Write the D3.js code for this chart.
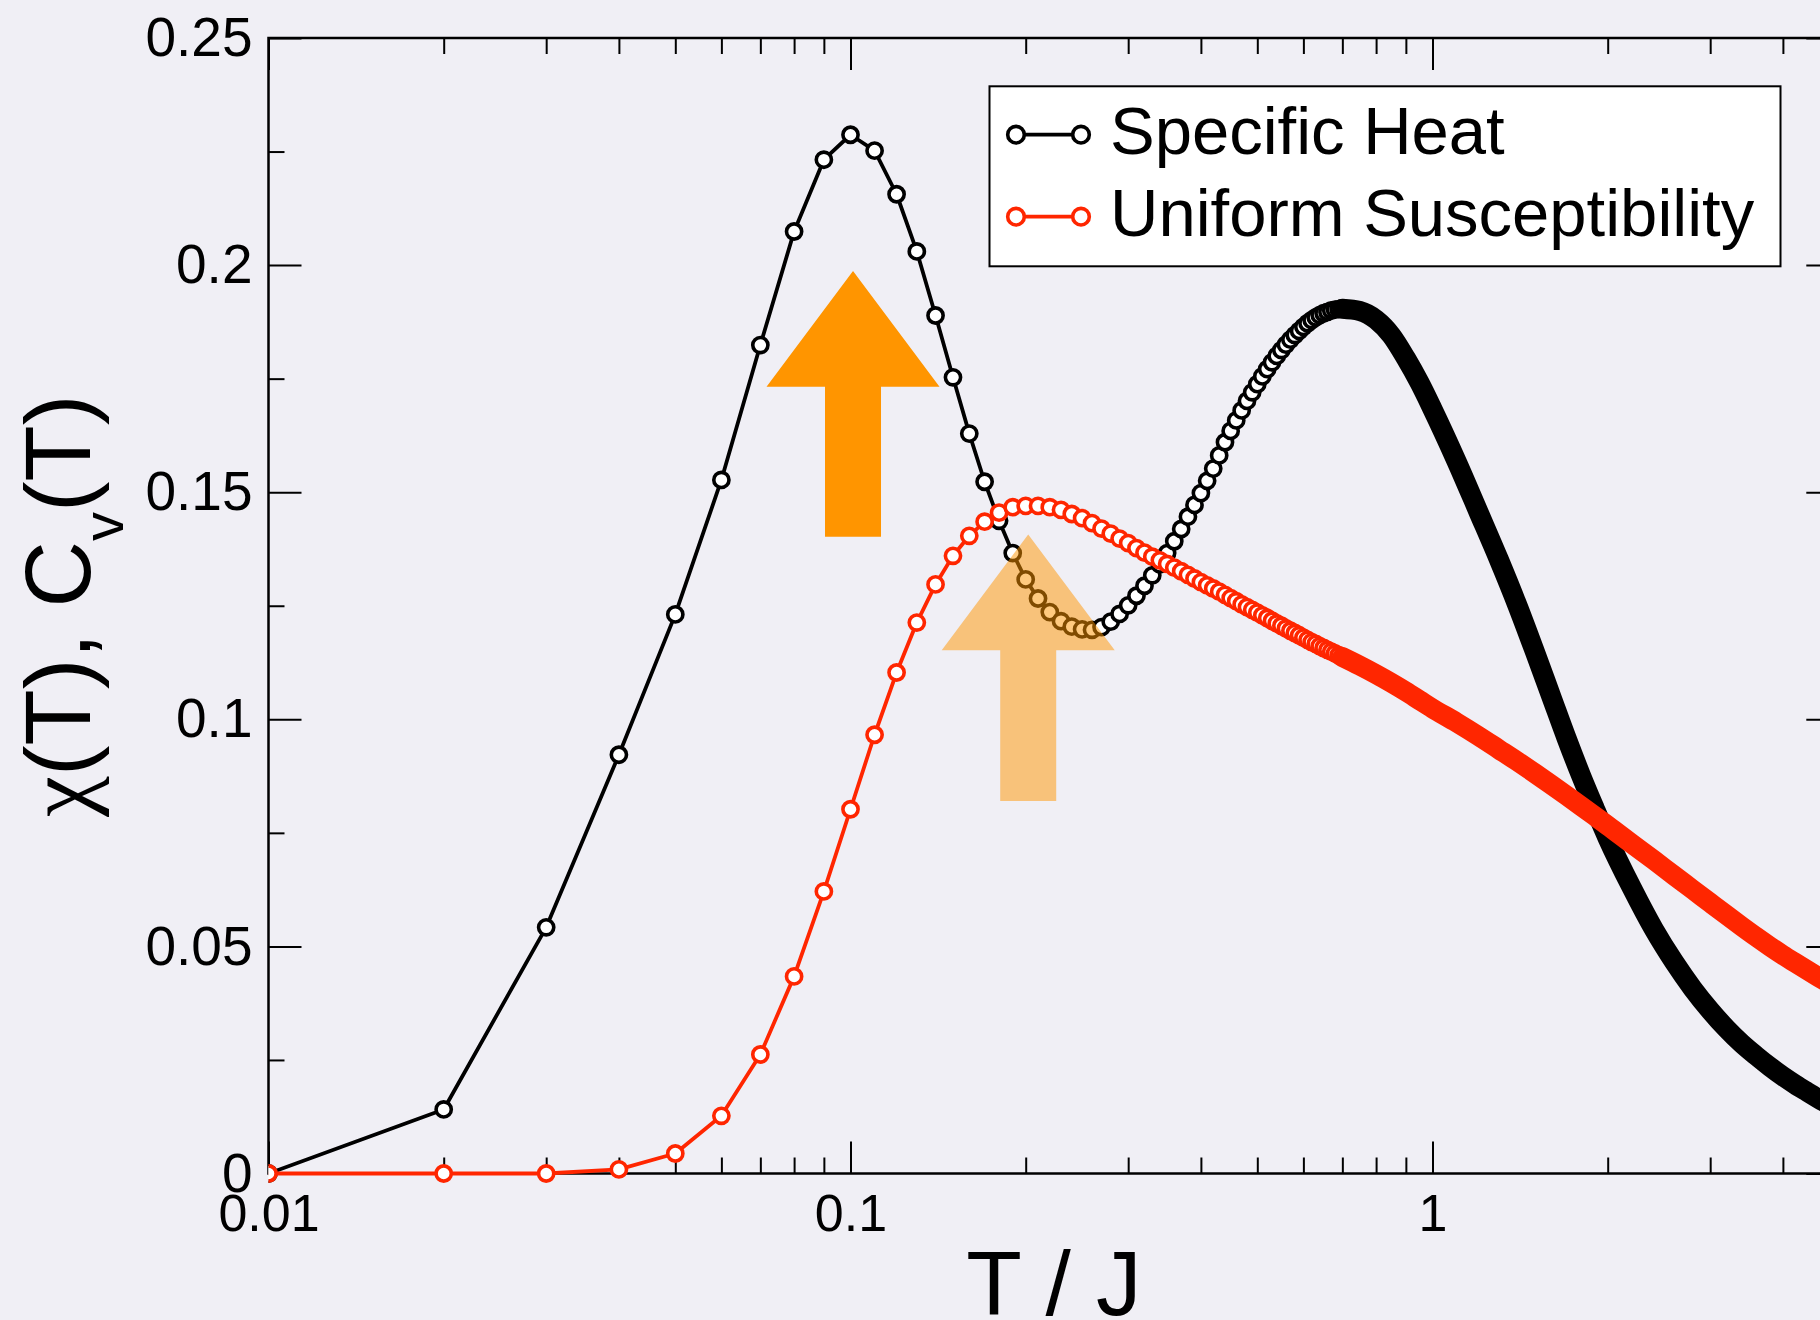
<!DOCTYPE html>
<html>
<head>
<meta charset="utf-8">
<script src="https://cdn.jsdelivr.net/npm/d3@7"></script>
<style>
  html, body { margin: 0; padding: 0; background: #f0eff5; }
  svg { display: block; }
  text { font-family: "Liberation Sans", Arial, Helvetica, sans-serif; fill: #000; }
</style>
</head>
<body>
<div id="chart"></div>
<script>
// DATA
// temperatures where the symbols are still visible one by one
let TEMP_DENSE = [0.01, 0.02, 0.03, 0.04, 0.05, 0.06, 0.07, 0.08, 0.09, 0.10,
    0.11, 0.12, 0.13, 0.14, 0.15, 0.16, 0.17, 0.18, 0.19, 0.20,
    0.21, 0.22, 0.23, 0.24, 0.25, 0.26, 0.27, 0.28, 0.29, 0.30,
    0.31, 0.32, 0.33, 0.34, 0.35, 0.36, 0.37, 0.38, 0.39, 0.40,
    0.41, 0.42, 0.43, 0.44, 0.45, 0.46, 0.47, 0.48, 0.49, 0.50,
    0.51, 0.52, 0.53, 0.54, 0.55, 0.56, 0.57, 0.58, 0.59, 0.60,
    0.61, 0.62, 0.63, 0.64, 0.65, 0.66, 0.67, 0.68, 0.69, 0.70]
let HEAT_DENSE = [0.0000, 0.0141, 0.0542, 0.0922, 0.1231, 0.1527, 0.1824, 0.2074, 0.2232, 0.2287,
    0.2252, 0.2156, 0.2030, 0.1889, 0.1753, 0.1629, 0.1523, 0.1437, 0.1366, 0.1308,
    0.1266, 0.1236, 0.1216, 0.1204, 0.1198, 0.1197, 0.1203, 0.1215, 0.1232, 0.1251,
    0.1272, 0.1294, 0.1317, 0.1341, 0.1366, 0.1392, 0.1419, 0.1446, 0.1472, 0.1498,
    0.1525, 0.1552, 0.1581, 0.1610, 0.1635, 0.1658, 0.1680, 0.1701, 0.1720, 0.1738,
    0.1755, 0.1771, 0.1786, 0.1800, 0.1813, 0.1825, 0.1836, 0.1846, 0.1855, 0.1864,
    0.1872, 0.1879, 0.1885, 0.1890, 0.1894, 0.1897, 0.1900, 0.1902, 0.1903, 0.1904]
let SUSC_DENSE = [0.0000, 0.0000, 0.0000, 0.0009, 0.0044, 0.0127, 0.0262, 0.0434, 0.0621, 0.0802,
    0.0966, 0.1103, 0.1213, 0.1297, 0.1360, 0.1404, 0.1435, 0.1455, 0.1467, 0.1470,
    0.1470, 0.1467, 0.1461, 0.1452, 0.1443, 0.1432, 0.1420, 0.1409, 0.1398, 0.1388,
    0.1377, 0.1367, 0.1358, 0.1350, 0.1342, 0.1334, 0.1326, 0.1318, 0.1310, 0.1302,
    0.1295, 0.1288, 0.1281, 0.1274, 0.1267, 0.1260, 0.1253, 0.1247, 0.1241, 0.1235,
    0.1229, 0.1223, 0.1217, 0.1211, 0.1206, 0.1200, 0.1195, 0.1190, 0.1185, 0.1180,
    0.1175, 0.1170, 0.1166, 0.1161, 0.1157, 0.1153, 0.1149, 0.1145, 0.1141, 0.1137]

// beyond 0.7 the symbols overlap into a solid band
let TEMP_TAIL = [0.70, 0.75, 0.80, 0.85, 0.90, 0.95, 1.0, 1.1, 1.2, 1.3, 1.4, 1.5, 1.6, 1.7, 1.8, 1.9,
    2.0, 2.2, 2.4, 2.6, 2.8, 3.0, 3.2, 3.4, 3.6, 3.8, 4.0, 4.2, 4.4, 4.6, 4.8, 5.0]
let HEAT_TAIL = [0.1904, 0.1899, 0.1880, 0.1845, 0.1795, 0.1741, 0.1683, 0.1568, 0.1456, 0.1352, 0.1250, 0.1148, 0.1050, 0.0958, 0.0876, 0.0804,
    0.0738, 0.0629, 0.0538, 0.0466, 0.0407, 0.0359, 0.0319, 0.0286, 0.0259, 0.0235, 0.0214, 0.0196, 0.0180, 0.0165, 0.0152, 0.0140]
let SUSC_TAIL = [0.1137, 0.1118, 0.1099, 0.1080, 0.1061, 0.1042, 0.1024, 0.0993, 0.0963, 0.0934, 0.0907, 0.0881, 0.0856, 0.0832, 0.0809, 0.0787,
    0.0766, 0.0726, 0.0690, 0.0656, 0.0625, 0.0596, 0.0569, 0.0544, 0.0521, 0.0500, 0.0481, 0.0464, 0.0448, 0.0433, 0.0419, 0.0406]

let X_MAJOR = [0.01, 0.1, 1]
let X_MINOR = [0.02, 0.03, 0.04, 0.05, 0.06, 0.07, 0.08, 0.09, 0.2, 0.3, 0.4, 0.5, 0.6, 0.7, 0.8, 0.9, 2, 3, 4]
let Y_MAJOR = [0, 0.05, 0.1, 0.15, 0.2, 0.25]
let Y_MINOR = [0.025, 0.075, 0.125, 0.175, 0.225]
let X_LABELS = ["0.01", "0.1", "1"]
let Y_LABELS = ["0", "0.05", "0.1", "0.15", "0.2", "0.25"]

let SERIES_NAMES = ["Specific Heat", "Uniform Susceptibility"]
// arrows: centre temperature, tip / head base / tail values
let ARROWS = [
    { t: 0.101, tip: 0.1987, base: 0.1732, tail: 0.1402, opacity: 1 },
    { t: 0.202, tip: 0.1407, base: 0.1152, tail: 0.0820, opacity: 0.5 }
]


// MAIN SCRIPT
let chartW = 1820, chartH = 1320
let plotLeft = 268.5, plotTop = 38, plotBottom = 1173.5, plotRight = 1839.3
let RED = "#ff2600", ORANGE = "#ff9500"
let SYMBOL_R = 7.6, SYMBOL_W = 3.6, LINE_W = 3.8

let svg = d3.select("#chart")
    .append("svg")
    .attr("width", chartW)
    .attr("height", chartH)

svg.append("rect")
    .attr("width", chartW)
    .attr("height", chartH)
    .attr("fill", "#f0eff5")

let x = d3.scaleLog().domain([0.01, 5]).range([plotLeft, plotRight])
let y = d3.scaleLinear().domain([0, 0.25]).range([plotBottom, plotTop])

function drawAxis(axis, transform, fontSize) {
    let g = svg.append("g").attr("transform", transform).call(axis)
    g.select(".domain").remove()
    g.selectAll(".tick line").attr("stroke", "#000").attr("stroke-width", 2)
    g.selectAll(".tick text").style("font-size", fontSize + "px").attr("fill", "#000")
    return g
}

// ticks on all four sides, pointing inwards
drawAxis(d3.axisBottom(x).tickValues(X_MAJOR).tickSize(-32).tickPadding(21)
    .tickFormat(function (d, i) { return X_LABELS[i] }), "translate(0," + plotBottom + ")", 52)
drawAxis(d3.axisBottom(x).tickValues(X_MINOR).tickSize(-16).tickFormat(""), "translate(0," + plotBottom + ")", 52)
drawAxis(d3.axisTop(x).tickValues(X_MAJOR).tickSize(-32).tickFormat(""), "translate(0," + plotTop + ")", 52)
drawAxis(d3.axisTop(x).tickValues(X_MINOR).tickSize(-16).tickFormat(""), "translate(0," + plotTop + ")", 52)
drawAxis(d3.axisLeft(y).tickValues(Y_MAJOR).tickSize(-33).tickPadding(16)
    .tickFormat(function (d, i) { return Y_LABELS[i] }), "translate(" + plotLeft + ",0)", 55)
drawAxis(d3.axisLeft(y).tickValues(Y_MINOR).tickSize(-16).tickFormat(""), "translate(" + plotLeft + ",0)", 55)
drawAxis(d3.axisRight(y).tickValues(Y_MAJOR).tickSize(-33).tickFormat(""), "translate(" + plotRight + ",0)", 55)
drawAxis(d3.axisRight(y).tickValues(Y_MINOR).tickSize(-16).tickFormat(""), "translate(" + plotRight + ",0)", 55)

svg.append("rect")
    .attr("x", plotLeft).attr("y", plotTop)
    .attr("width", plotRight - plotLeft).attr("height", plotBottom - plotTop)
    .attr("fill", "none")
    .attr("stroke", "#000")
    .attr("stroke-width", 2.5)

svg.append("clipPath").attr("id", "plotClip")
    .append("rect")
    .attr("x", plotLeft).attr("y", plotTop - 20)
    .attr("width", plotRight - plotLeft).attr("height", plotBottom - plotTop + 40)

let plot = svg.append("g").attr("clip-path", "url(#plotClip)")

function drawSeries(temps, vals, tailTemps, tailVals, color) {
    let pts = temps.map(function (t, i) { return { t: t, v: vals[i] } })
    let tail = tailTemps.map(function (t, i) { return { t: t, v: tailVals[i] } })
    let line = d3.line()
        .x(function (d) { return x(d.t) })
        .y(function (d) { return y(d.v) })
    let g = plot.append("g")
    g.append("path")
        .attr("d", line(pts))
        .attr("stroke", color)
        .attr("stroke-linejoin", "round")
        .style("stroke-width", LINE_W)
        .style("fill", "none")
    g.selectAll("mySymbols")
        .data(pts)
        .enter()
        .append("circle")
        .attr("cx", function (d) { return x(d.t) })
        .attr("cy", function (d) { return y(d.v) })
        .attr("r", SYMBOL_R)
        .attr("fill", "#fff")
        .attr("stroke", color)
        .attr("stroke-width", SYMBOL_W)
    // overlapping symbols merge into a thick band
    g.append("path")
        .attr("d", line.curve(d3.curveMonotoneX)(tail))
        .attr("stroke", color)
        .attr("stroke-linecap", "round")
        .style("stroke-width", 20)
        .style("fill", "none")
}

drawSeries(TEMP_DENSE, HEAT_DENSE, TEMP_TAIL, HEAT_TAIL, "#000")
drawSeries(TEMP_DENSE, SUSC_DENSE, TEMP_TAIL, SUSC_TAIL, RED)

// arrows
let headHalf = 86.5, shaftHalf = 28
svg.selectAll("myArrows")
    .data(ARROWS)
    .enter()
    .append("path")
    .attr("d", function (d) {
        let cx = x(d.t)
        let pts = [[cx, y(d.tip)], [cx + headHalf, y(d.base)], [cx + shaftHalf, y(d.base)],
            [cx + shaftHalf, y(d.tail)], [cx - shaftHalf, y(d.tail)], [cx - shaftHalf, y(d.base)],
            [cx - headHalf, y(d.base)]]
        return "M" + pts.map(function (p) { return p.join(",") }).join("L") + "Z"
    })
    .attr("fill", ORANGE)
    .attr("fill-opacity", function (d) { return d.opacity })

// legend
let legend = svg.append("g")
legend.append("rect")
    .attr("x", 989.5).attr("y", 86.3)
    .attr("width", 791).attr("height", 180)
    .attr("fill", "#fff")
    .attr("stroke", "#000")
    .attr("stroke-width", 2)

let legendColors = ["#000", RED]
let rows = legend.selectAll("myLegend")
    .data(SERIES_NAMES)
    .enter()
    .append("g")
    .attr("transform", function (d, i) { return "translate(0," + (i * 82) + ")" })
rows.append("line")
    .attr("x1", 1016).attr("x2", 1081)
    .attr("y1", 134.7).attr("y2", 134.7)
    .attr("stroke", function (d, i) { return legendColors[i] })
    .attr("stroke-width", LINE_W)
rows.selectAll("myEnds")
    .data(function (d, i) { return [legendColors[i], legendColors[i]] })
    .enter()
    .append("circle")
    .attr("cx", function (d, j) { return j === 0 ? 1016 : 1081 })
    .attr("cy", 134.7)
    .attr("r", 8.3)
    .attr("fill", "#fff")
    .attr("stroke", function (d) { return d })
    .attr("stroke-width", 3.6)
rows.append("text")
    .attr("x", 1110)
    .attr("y", 153.6)
    .style("font-size", "67px")
    .text(function (d) { return d })

// axis titles
svg.append("text")
    .attr("x", (plotLeft + plotRight) / 2)
    .attr("y", 1315)
    .attr("text-anchor", "middle")
    .style("font-size", "91px")
    .text("T / J")

let yTitle = svg.append("text")
    .attr("transform", "translate(90," + ((plotTop + plotBottom) / 2) + ") rotate(-90)")
    .attr("text-anchor", "middle")
    .style("font-size", "92px")
yTitle.append("tspan").style("font-family", "'Liberation Serif', 'DejaVu Serif', serif").text("\u03c7")
yTitle.append("tspan").text("(T), C")
yTitle.append("tspan").attr("dy", 33).style("font-size", "58px").text("v")
yTitle.append("tspan").attr("dy", -33).text("(T)")
</script>
</body>
</html>
